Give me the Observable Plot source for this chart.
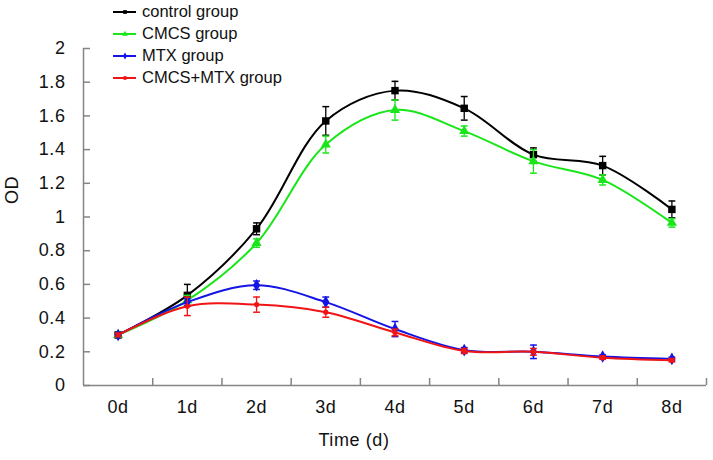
<!DOCTYPE html>
<html>
<head>
<meta charset="utf-8">
<script src="https://cdn.jsdelivr.net/npm/d3@7"></script>
<script src="https://cdn.jsdelivr.net/npm/@observablehq/plot@0.6"></script>
<style>
  html, body { margin: 0; padding: 0; background: #fff; }
  #wrap { position: relative; width: 713px; height: 460px; font-family: "Liberation Sans", Arial, sans-serif; }
  #legend { position: absolute; left: 113px; top: 1px; font-size: 16.5px; color: #111; }
  #legend .row { height: 21.9px; line-height: 21.9px; display: flex; align-items: center; white-space: nowrap; }
  #legend svg { margin-right: 6px; }
</style>
</head>
<body>
<div id="wrap"><div id="legend"></div></div>
<script>
const days = ["0d", "1d", "2d", "3d", "4d", "5d", "6d", "7d", "8d"];
const seriesNames = ["control group", "CMCS group", "MTX group", "CMCS+MTX group"];
const seriesColors = ["#000000", "#19e619", "#1414e6", "#f01414"];
const seriesSymbols = ["square", "triangle", "diamond", "circle"];
const control    = [0.30, 0.535, 0.93, 1.57, 1.75, 1.645, 1.37, 1.305, 1.045];
const controlErr = [0.01, 0.065, 0.035, 0.085, 0.055, 0.07, 0.04, 0.055, 0.05];
const cmcs       = [0.30, 0.505, 0.845, 1.43, 1.635, 1.51, 1.33, 1.22, 0.965];
const cmcsErr    = [0.01, 0.03, 0.025, 0.05, 0.06, 0.03, 0.07, 0.03, 0.025];
const mtx        = [0.30, 0.495, 0.595, 0.495, 0.335, 0.21, 0.20, 0.172, 0.158];
const mtxErr     = [0.01, 0.02, 0.025, 0.03, 0.045, 0.015, 0.04, 0.01, 0.01];
const combo      = [0.30, 0.47, 0.48, 0.435, 0.315, 0.205, 0.20, 0.165, 0.15];
const comboErr   = [0.01, 0.055, 0.045, 0.03, 0.02, 0.015, 0.02, 0.01, 0.01];
const yTicks = [0, 0.2, 0.4, 0.6, 0.8, 1, 1.2, 1.4, 1.6, 1.8, 2];

const allValues = [control, cmcs, mtx, combo];
const allErrs = [controlErr, cmcsErr, mtxErr, comboErr];
const rows = [];
allValues.forEach((vals, s) => vals.forEach((v, i) => rows.push({
  series: seriesNames[s], s, i, day: days[i], v, lo: v - allErrs[s][i], hi: v + allErrs[s][i]
})));
const xBoundaries = days.map((d, i) => i + 0.5);

const capSymbol = { draw(ctx, size) { const w = Math.sqrt(size) * 0.55; ctx.moveTo(-w, 0); ctx.lineTo(w, 0); } };

const W = 713, H = 460, mL = 83, mR = 7, mT = 48, mB = 75;
const frameW = W - mL - mR, frameH = H - mT - mB;
const axisColor = "#858585";
const font = '"Liberation Sans", Arial, sans-serif';

const marks = [
  Plot.ruleY([0], {stroke: axisColor, strokeWidth: 1.5}),
  Plot.ruleX([-0.5], {y1: 0, y2: 2, stroke: axisColor, strokeWidth: 1.5}),
  Plot.ruleX(xBoundaries, {stroke: axisColor, strokeWidth: 1.5, insetTop: frameH - 7}),
  Plot.ruleY(yTicks, {stroke: axisColor, strokeWidth: 1.5, insetRight: frameW - 7}),
  Plot.axisX({ticks: days.map((d, i) => i), tickFormat: i => days[i], tickSize: 0, tickPadding: 15, fontSize: 18, fill: "#111", label: null}),
  Plot.axisY({ticks: yTicks, tickFormat: d => String(+d.toFixed(1)), tickSize: 0, tickPadding: 18, fontSize: 18, fill: "#111", label: null}),
  Plot.text(["OD"], {frameAnchor: "left", dx: -71, dy: -13, rotate: -90, fontSize: 18, fill: "#111"}),
  Plot.text(["Time (d)"], {frameAnchor: "bottom", dx: -41, dy: 60, fontSize: 18, fill: "#111"})
];

seriesNames.forEach((name, s) => {
  const data = rows.filter(r => r.s === s);
  const c = seriesColors[s];
  marks.push(
    Plot.line(data, {x: "i", y: "v", stroke: c, strokeWidth: 2, curve: "catmull-rom"}),
    Plot.ruleX(data, {x: "i", y1: "lo", y2: "hi", stroke: c, strokeWidth: 1.3}),
    Plot.dot(data, {x: "i", y: "lo", symbol: capSymbol, r: 3.5, stroke: c, strokeWidth: 1.5, fill: "none"}),
    Plot.dot(data, {x: "i", y: "hi", symbol: capSymbol, r: 3.5, stroke: c, strokeWidth: 1.5, fill: "none"}),
    Plot.dot(data, {x: "i", y: "v", symbol: seriesSymbols[s], r: s === 3 ? 2.6 : (s === 0 ? 4.2 : 3.8), fill: s === 0 ? "#000" : c, stroke: "none"})
  );
});

const chart = Plot.plot({
  width: W, height: H,
  marginLeft: mL, marginRight: mR, marginTop: mT, marginBottom: mB,
  style: {fontFamily: font, fontSize: "18px", letterSpacing: "0.6px", background: "#fff", color: "#111"},
  x: {type: "linear", domain: [-0.5, 8.5], axis: null, label: null},
  y: {type: "linear", domain: [0, 2], axis: null, label: null},
  marks
});
document.getElementById("wrap").appendChild(chart);

const legend = document.getElementById("legend");
seriesNames.forEach((name, s) => {
  const row = document.createElement("div");
  row.className = "row";
  const sym = d3.symbol(s === 0 ? d3.symbolSquare : s === 1 ? d3.symbolTriangle : s === 2 ? d3.symbolDiamond : d3.symbolCircle, 14)();
  row.innerHTML = `<svg width="23" height="10"><line x1="0" y1="5" x2="23" y2="5" stroke="${seriesColors[s]}" stroke-width="2"/><path d="${sym}" transform="translate(12,5)" fill="${seriesColors[s]}"/></svg><span>${name}</span>`;
  legend.appendChild(row);
});
</script>
</body>
</html>
